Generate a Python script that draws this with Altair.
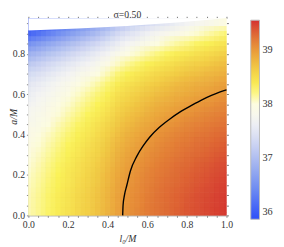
import altair as alt
import pandas as pd

# grid of l0/M (columns) and a/M (rows)
l0_grid = [0.00, 0.05, 0.10, 0.15, 0.20, 0.25, 0.30, 0.35, 0.40, 0.45, 0.50,
           0.55, 0.60, 0.65, 0.70, 0.75, 0.80, 0.85, 0.90, 0.95, 1.00]
a_grid = [0.00, 0.05, 0.10, 0.15, 0.20, 0.25, 0.30, 0.35, 0.40, 0.45,
          0.50, 0.55, 0.60, 0.65, 0.70, 0.75, 0.80, 0.85, 0.90, 0.95]

v_a000 = [38.10, 38.18, 38.27, 38.36, 38.45, 38.54, 38.63, 38.72, 38.83, 38.95, 39.04, 39.11, 39.18, 39.24, 39.29, 39.34, 39.38, 39.42, 39.45, 39.49, 39.52]
v_a005 = [38.10, 38.18, 38.26, 38.36, 38.44, 38.54, 38.62, 38.72, 38.82, 38.94, 39.04, 39.10, 39.18, 39.23, 39.29, 39.33, 39.38, 39.41, 39.45, 39.48, 39.52]
v_a010 = [38.09, 38.17, 38.26, 38.35, 38.44, 38.53, 38.62, 38.71, 38.82, 38.94, 39.03, 39.10, 39.17, 39.23, 39.28, 39.33, 39.37, 39.41, 39.44, 39.48, 39.51]
v_a015 = [38.07, 38.15, 38.24, 38.33, 38.42, 38.51, 38.60, 38.69, 38.80, 38.92, 39.01, 39.08, 39.15, 39.21, 39.26, 39.31, 39.35, 39.39, 39.42, 39.46, 39.49]
v_a020 = [38.05, 38.13, 38.22, 38.31, 38.40, 38.49, 38.58, 38.67, 38.78, 38.90, 38.99, 39.06, 39.13, 39.19, 39.24, 39.29, 39.33, 39.37, 39.40, 39.44, 39.47]
v_a025 = [38.02, 38.10, 38.19, 38.28, 38.37, 38.46, 38.55, 38.64, 38.75, 38.87, 38.96, 39.03, 39.10, 39.16, 39.21, 39.26, 39.30, 39.34, 39.37, 39.41, 39.44]
v_a030 = [37.98, 38.06, 38.15, 38.24, 38.33, 38.42, 38.51, 38.60, 38.71, 38.83, 38.92, 38.99, 39.06, 39.12, 39.17, 39.22, 39.26, 39.30, 39.33, 39.37, 39.40]
v_a035 = [37.94, 38.02, 38.11, 38.20, 38.29, 38.38, 38.47, 38.56, 38.67, 38.79, 38.88, 38.95, 39.02, 39.08, 39.13, 39.18, 39.22, 39.26, 39.29, 39.33, 39.36]
v_a040 = [37.89, 37.97, 38.06, 38.15, 38.24, 38.33, 38.42, 38.51, 38.62, 38.74, 38.83, 38.90, 38.97, 39.03, 39.08, 39.13, 39.17, 39.21, 39.24, 39.28, 39.31]
v_a045 = [37.83, 37.91, 38.00, 38.09, 38.18, 38.27, 38.36, 38.45, 38.56, 38.68, 38.77, 38.84, 38.91, 38.97, 39.02, 39.07, 39.11, 39.15, 39.18, 39.22, 39.25]
v_a050 = [37.76, 37.84, 37.93, 38.02, 38.11, 38.20, 38.29, 38.38, 38.49, 38.61, 38.70, 38.77, 38.84, 38.90, 38.95, 39.00, 39.04, 39.08, 39.11, 39.15, 39.18]
v_a055 = [37.69, 37.77, 37.86, 37.95, 38.04, 38.13, 38.22, 38.31, 38.42, 38.54, 38.63, 38.70, 38.77, 38.83, 38.88, 38.93, 38.97, 39.01, 39.04, 39.08, 39.11]
v_a060 = [37.61, 37.69, 37.78, 37.87, 37.96, 38.05, 38.14, 38.23, 38.34, 38.46, 38.55, 38.62, 38.69, 38.75, 38.80, 38.85, 38.89, 38.93, 38.96, 39.00, 39.03]
v_a065 = [37.50, 37.58, 37.67, 37.76, 37.85, 37.95, 38.04, 38.13, 38.24, 38.36, 38.45, 38.52, 38.60, 38.66, 38.71, 38.77, 38.81, 38.85, 38.88, 38.93, 38.96]
v_a070 = [37.34, 37.42, 37.52, 37.61, 37.71, 37.80, 37.89, 37.99, 38.10, 38.23, 38.32, 38.40, 38.47, 38.54, 38.59, 38.65, 38.70, 38.74, 38.78, 38.82, 38.86]
v_a075 = [37.12, 37.21, 37.31, 37.41, 37.51, 37.61, 37.71, 37.81, 37.93, 38.06, 38.16, 38.24, 38.32, 38.39, 38.45, 38.52, 38.57, 38.62, 38.66, 38.71, 38.75]
v_a080 = [36.84, 36.94, 37.05, 37.15, 37.26, 37.37, 37.48, 37.59, 37.71, 37.85, 37.96, 38.05, 38.13, 38.21, 38.28, 38.35, 38.40, 38.46, 38.51, 38.56, 38.61]
v_a085 = [36.50, 36.61, 36.73, 36.84, 36.96, 37.08, 37.20, 37.32, 37.45, 37.60, 37.72, 37.81, 37.91, 37.99, 38.07, 38.14, 38.20, 38.27, 38.32, 38.39, 38.44]
v_a090 = [36.08, 36.20, 36.33, 36.47, 36.60, 36.73, 36.86, 36.99, 37.15, 37.31, 37.44, 37.54, 37.64, 37.74, 37.82, 37.90, 37.97, 38.04, 38.11, 38.18, 38.24]
v_a095 = [35.85, 35.97, 36.09, 36.22, 36.34, 36.47, 36.59, 36.72, 36.86, 37.02, 37.14, 37.25, 37.35, 37.45, 37.53, 37.62, 37.69, 37.77, 37.83, 37.91, 37.97]

value_rows = [v_a000, v_a005, v_a010, v_a015, v_a020, v_a025, v_a030, v_a035, v_a040, v_a045,
              v_a050, v_a055, v_a060, v_a065, v_a070, v_a075, v_a080, v_a085, v_a090, v_a095]

# contour line (value 39)
contour_l0 = [0.476, 0.478, 0.485, 0.497, 0.515, 0.547, 0.580, 0.612, 0.660, 0.711, 0.770, 0.826, 0.876, 0.924, 0.965, 1.000]
contour_a = [0.000, 0.050, 0.100, 0.149, 0.220, 0.292, 0.345, 0.387, 0.435, 0.475, 0.515, 0.546, 0.572, 0.594, 0.610, 0.622]

# upper edge of the allowed region
edge_l0 = [0.00, 0.25, 0.50, 0.75, 1.00]
edge_a = [0.916, 0.925, 0.938, 0.955, 0.976]

# colour map (TemperatureMap-like)
stop_values = [35.86, 36.40, 36.90, 37.35, 37.70, 38.00, 38.30, 38.65, 39.00, 39.30, 39.56]
stop_colors = ["#2d4ef9", "#6b89f2", "#a5b6f0", "#d6dcf3", "#f4f4f4", "#fdfce0",
               "#fbf35a", "#f2cc45", "#e99a3a", "#df6a35", "#d43030"]
legend_values = [36, 37, 38, 39]

x_tick_values = [round(i * 0.05, 2) for i in range(21)]
y_tick_values = [round(i * 0.05, 2) for i in range(20)]
A_TOP = 0.976
HALF = 0.025
Q = 0.0125
OVERLAP = 0.002

# four staggered copies of the cell grid, composited with decreasing
# opacity so that neighbouring cells blend (softens the blocky look)
passes = [(-Q, -Q, 1.0), (Q, -Q, 1 / 2), (-Q, Q, 1 / 3), (Q, Q, 1 / 4)]
records = []
for dx, dy, alpha in passes:
    ov = OVERLAP if alpha == 1.0 else 0.0
    for i, (a, row) in enumerate(zip(a_grid, value_rows)):
        y_lo = max(a - HALF + dy, 0.0)
        y_hi = A_TOP if i == len(a_grid) - 1 else min(a + HALF + dy + ov, A_TOP)
        for x, v in zip(l0_grid, row):
            x_lo = max(x - HALF + dx, 0.0)
            x_hi = min(x + HALF + dx + ov, 1.0)
            if x_hi <= x_lo or y_hi <= y_lo:
                continue
            records.append({"x": x_lo, "x2": x_hi, "y": y_lo, "y2": y_hi, "v": v, "alpha": alpha})
grid_df = pd.DataFrame(records)
contour_df = pd.DataFrame({"x": contour_l0, "y": contour_a})
edge_df = pd.DataFrame({"x": edge_l0, "y": edge_a, "top": [A_TOP] * len(edge_l0)})

SERIF = "Liberation Serif"
xscale = alt.Scale(domain=[0, 1], nice=False, zero=False)
yscale = alt.Scale(domain=[0, A_TOP], nice=False, zero=False)
cscale = alt.Scale(domain=stop_values, range=stop_colors, interpolate="rgb")

label_expr = "(round(datum.value*100) % 20 == 0) ? format(datum.value, '.1f') : ''"

x_axis = alt.Axis(values=x_tick_values, labelExpr=label_expr, tickSize=2, tickColor="#888888",
                  domainColor="#999999", labelFont=SERIF, labelFontSize=10, labelColor="#333333",
                  labelPadding=2, grid=False, title="l₀/M", titleFont=SERIF, titleFontSize=10,
                  titleFontStyle="italic", titleFontWeight="normal", titleColor="#333333",
                  titlePadding=5, labelFlush=False)
y_axis = alt.Axis(values=y_tick_values, labelExpr=label_expr, tickSize=2, tickColor="#888888",
                  domainColor="#999999", labelFont=SERIF, labelFontSize=10, labelColor="#333333",
                  labelPadding=2, grid=False, title="a/M", titleFont=SERIF, titleFontSize=10,
                  titleFontStyle="italic", titleFontWeight="normal", titleColor="#333333",
                  titleX=-10, titleY=101, labelFlush=False)
top_axis = alt.Axis(orient="top", values=x_tick_values, labels=False, domain=False, tickSize=2,
                    tickColor="#777777", grid=False, title=None)
right_axis = alt.Axis(orient="right", values=y_tick_values, labels=False, domain=False, tickSize=2,
                      tickColor="#777777", grid=False, title=None)

heat = alt.Chart(grid_df).mark_rect().encode(
    x=alt.X("x:Q", scale=xscale, axis=x_axis),
    x2="x2:Q",
    y=alt.Y("y:Q", scale=yscale, axis=y_axis),
    y2="y2:Q",
    opacity=alt.Opacity("alpha:Q", scale=None),
    color=alt.Color("v:Q", scale=cscale, legend=alt.Legend(
        type="gradient", orient="none", legendX=229, legendY=2, direction="vertical", title=None,
        gradientLength=205, gradientThickness=9, values=legend_values,
        labelFont=SERIF, labelFontSize=10.5, labelColor="#333333",
        gradientStrokeColor="#bbbbbb", gradientStrokeWidth=1, labelOffset=3)),
)

cover = alt.Chart(edge_df).mark_area(color="white").encode(
    x=alt.X("x:Q", scale=xscale, axis=top_axis),
    y=alt.Y("y:Q", scale=yscale, axis=right_axis),
    y2="top:Q",
)

contour = alt.Chart(contour_df).mark_line(color="black", strokeWidth=1.4, interpolate="monotone").encode(
    x=alt.X("x:Q", scale=xscale, axis=None),
    y=alt.Y("y:Q", scale=yscale, axis=None),
    order=alt.Order("y:Q"),
)

chart = alt.layer(heat, cover, contour).resolve_axis(
    x="independent", y="independent"
).properties(
    width=204, height=203,
    autosize=alt.AutoSizeParams(type="none"),
    padding={"left": 21, "top": 7, "right": 51, "bottom": 29},
    title=alt.TitleParams("σ=0.50", font=SERIF, fontSize=10, fontWeight="normal",
                          color="#333333", anchor="middle", offset=-4),
).configure_view(stroke=None)

chart.save("out.html", embed_options={"renderer": "svg", "actions": False})
